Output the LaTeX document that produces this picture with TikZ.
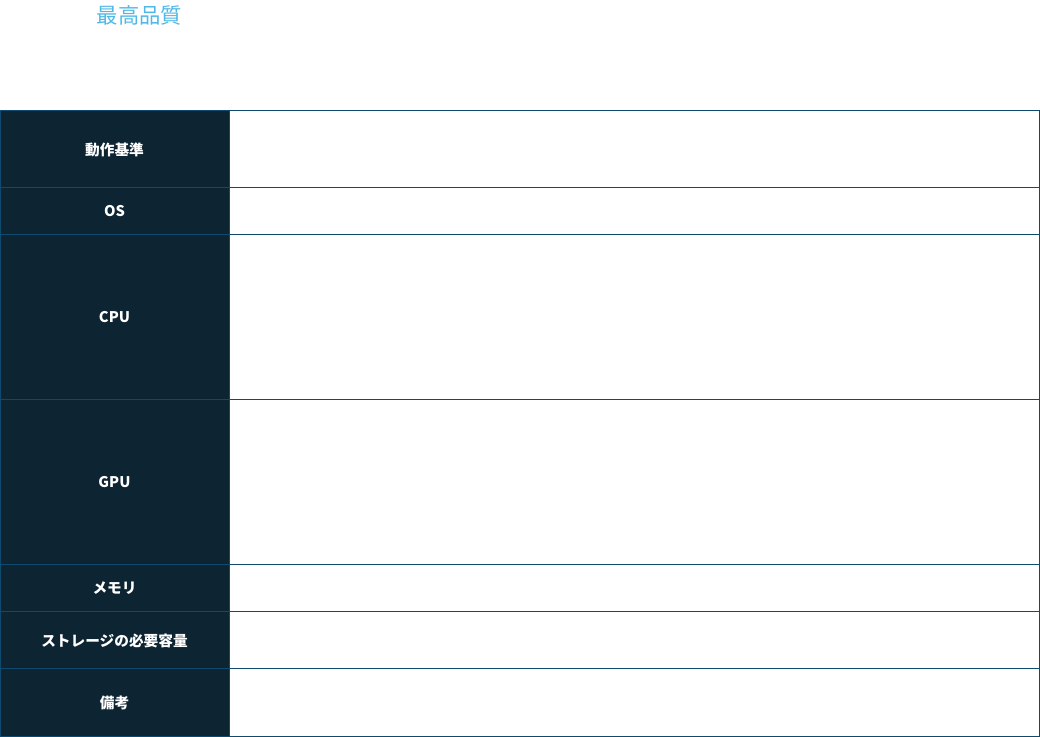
\documentclass[tikz,border=0pt]{standalone}
\usepackage{fontspec}
\setmainfont{Noto Sans}
\newfontfamily\cjk{Noto Sans CJK JP}
\usetikzlibrary{positioning}
\definecolor{HeadInk}{HTML}{0D2433}
\definecolor{RuleBlue}{HTML}{0F4A6E}
\definecolor{TitleBlue}{HTML}{4FB8E6}
\tikzset{
  headcell/.style={fill=HeadInk, draw=RuleBlue, line width=0.75pt},
  bodycell/.style={fill=white, draw=RuleBlue, line width=0.75pt},
  headtext/.style={color=white, font=\cjk\bfseries\fontsize{11}{13}\selectfont},
}
\begin{document}
\begin{tikzpicture}[x=0.75pt, y=-0.75pt]
  \useasboundingbox (0,0) rectangle (1040,737);

  % Title
  \node[color=TitleBlue, font=\cjk\fontsize{16}{18}\selectfont, anchor=west] (title) at (92,15) {最高品質};

  % Rows
  \foreach \top/\bot/\name/\txt in {
      111/188/rule/動作基準,
      188/235/os/OS,
      235/400/cpu/CPU,
      400/565/gpu/GPU,
      565/612/mem/メモリ,
      612/669/disk/ストレージの必要容量,
      669/736.5/note/備考}{
    \draw[bodycell] (229,\top) rectangle (1039.5,\bot);
    \draw[headcell] (0.5,\top) rectangle (229,\bot);
    \node[headtext] (\name) at (114.5,{(\top+\bot)/2}) {\txt};
  }
\end{tikzpicture}
\end{document}
